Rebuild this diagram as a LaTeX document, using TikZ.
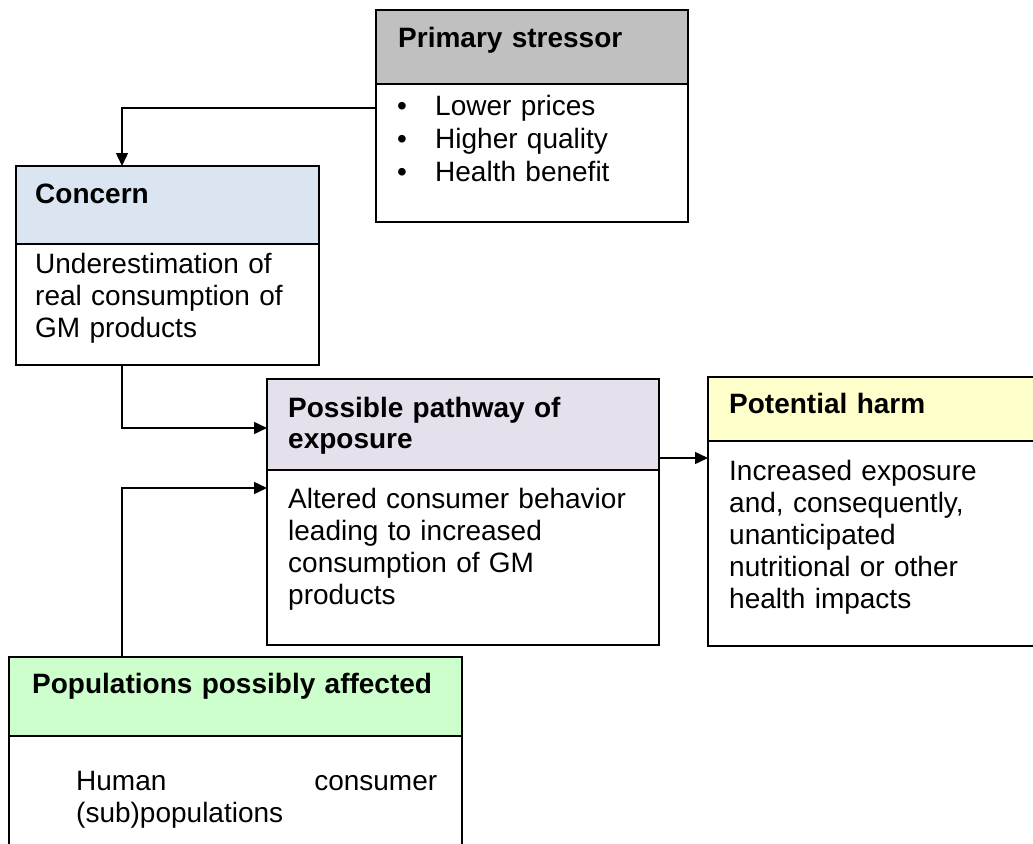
\documentclass[tikz,border=0pt]{standalone}
\usepackage{fontspec}
\setmainfont{Liberation Sans}
\usetikzlibrary{arrows.meta}
\definecolor{hdgray}{RGB}{192,192,192}
\definecolor{hdblue}{RGB}{219,229,241}
\definecolor{hdlilac}{RGB}{229,224,236}
\definecolor{hdyellow}{RGB}{255,255,204}
\definecolor{hdgreen}{RGB}{204,255,204}
\begin{document}
\begin{tikzpicture}[x=1pt,y=-1pt,
  panel/.style={draw=black, line width=1.5pt, rectangle, inner sep=0pt,
    outer sep=0pt, anchor=north west},
  txt/.style={anchor=base west, inner sep=0pt, text width=#1, align=left,
    font=\fontsize{28}{32}\selectfont},
  txt/.default=360pt,
  conn/.style={line width=1.5pt, -{Triangle[length=13pt,width=12pt]}}]

\useasboundingbox (0,0) rectangle (1033,843);

% boxes: body panel first, then the coloured heading on top of it
\node[panel, fill=white, minimum width=312pt, minimum height=138pt] (ps-body) at (376,84) {};
\node[panel, fill=hdgray, minimum width=312pt, minimum height=74pt] (ps-head) at (376,10) {};

\node[panel, fill=white, minimum width=303pt, minimum height=121pt] (cc-body) at (16,244) {};
\node[panel, fill=hdblue, minimum width=303pt, minimum height=78pt] (cc-head) at (16,166) {};

\node[panel, fill=white, minimum width=392pt, minimum height=175pt] (pw-body) at (267,470) {};
\node[panel, fill=hdlilac, minimum width=392pt, minimum height=91pt] (pw-head) at (267,379) {};

\node[panel, fill=white, minimum width=340pt, minimum height=205pt] (hm-body) at (708,441) {};
\node[panel, fill=hdyellow, minimum width=340pt, minimum height=64pt] (hm-head) at (708,377) {};

\node[panel, fill=white, minimum width=453pt, minimum height=150pt] (pp-body) at (9,736) {};
\node[panel, fill=hdgreen, minimum width=453pt, minimum height=79pt] (pp-head) at (9,657) {};

% texts
\node[txt] (ps-title) at (398,48) {\bfseries Primary stressor};
\node[txt, font=\fontsize{28}{33}\selectfont] (ps-list) at (397,115)
  {\makebox[38pt][l]{•}Lower prices\\\makebox[38pt][l]{•}Higher quality\\\makebox[38pt][l]{•}Health benefit};

\node[txt] (cc-title) at (35,203) {\bfseries Concern};
\node[txt] (cc-text) at (35,273) {Underestimation of\\real consumption of\\GM products};

\node[txt, font=\fontsize{28}{31}\selectfont] (pw-title) at (288,417) {\bfseries Possible pathway of\\exposure};
\node[txt] (pw-text) at (288,508) {Altered consumer behavior\\leading to increased\\consumption of GM\\products};

\node[txt] (hm-title) at (729,413) {\bfseries Potential harm};
\node[txt] (hm-text) at (729,480) {Increased exposure\\and, consequently,\\unanticipated\\nutritional or other\\health impacts};

\node[txt=430pt] (pp-title) at (32,693) {\bfseries Populations possibly affected};
\node[txt=361pt] (pp-text) at (76,790) {Human\hfill consumer\\(sub)populations};

% connector end points
\coordinate (ps-out) at ([yshift=-24pt]ps-body.north west);
\coordinate (cc-in)  at ([xshift=106pt]cc-head.north west);
\coordinate (cc-out) at ([xshift=106pt]cc-body.south west);
\coordinate (pw-in1) at ([yshift=-49pt]pw-head.north west);
\coordinate (pp-out) at ([xshift=113pt]pp-head.north west);
\coordinate (pw-in2) at ([yshift=-18pt]pw-body.north west);
\coordinate (pw-out) at ([yshift=12pt]pw-head.south east);
\coordinate (hm-in)  at ([yshift=-17pt]hm-body.north west);

% connectors
\draw[conn] (ps-out) -| (cc-in);
\draw[conn] (cc-out) |- (pw-in1);
\draw[conn] (pp-out) |- (pw-in2);
\draw[conn] (pw-out) -- (hm-in);
\end{tikzpicture}
\end{document}
